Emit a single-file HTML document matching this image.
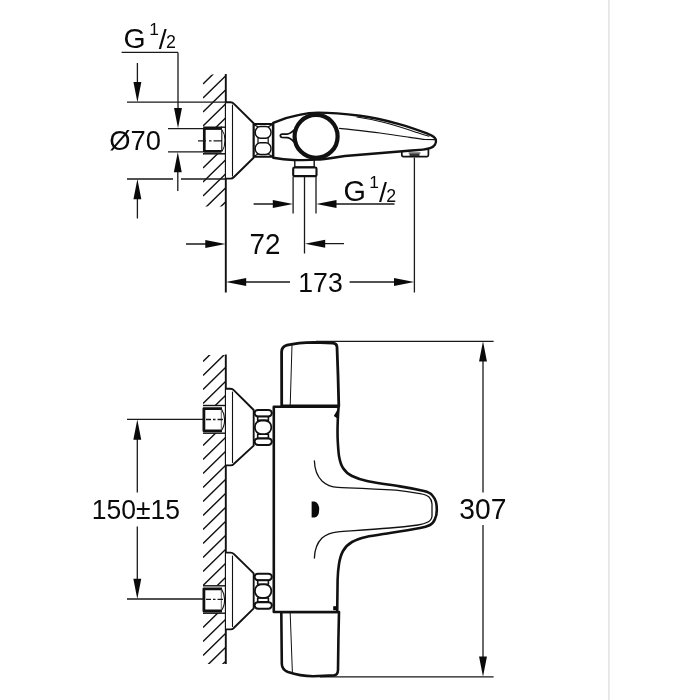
<!DOCTYPE html>
<html><head><meta charset="utf-8"><title>Technical drawing</title>
<style>
html,body{margin:0;padding:0;background:#fff;}
body{width:700px;height:700px;overflow:hidden;}
svg{display:block;}
text{font-family:"Liberation Sans",Arial,Helvetica,sans-serif;fill:#0a0a0a;}
</style></head><body>
<svg width="700" height="700" viewBox="0 0 700 700">
<defs>
<clipPath id="h1"><rect x="203" y="74.5" width="23" height="132"/></clipPath>
<clipPath id="h2"><rect x="203" y="355" width="23" height="309"/></clipPath>
</defs>
<rect width="700" height="700" fill="#fff"/>
<line x1="608.9" y1="0" x2="608.9" y2="700" stroke="#e4e4e4" stroke-width="1.6"/>

<!-- ===== hatching ===== -->
<path clip-path="url(#h1)" d="M203,84 L225.8,61.7 M203,98 L225.8,75.7 M203,112 L225.8,89.7 M203,126 L225.8,103.7 M203,140 L225.8,117.7 M203,154 L225.8,131.7 M203,168 L225.8,145.7 M203,182 L225.8,159.7 M203,196 L225.8,173.7 M203,210 L225.8,187.7 M203,224 L225.8,201.7 M203,238 L225.8,215.7" stroke="#111" stroke-width="1.45" fill="none"/>
<path clip-path="url(#h2)" d="M203,361.5 L225.8,339.2 M203,375.5 L225.8,353.2 M203,389.5 L225.8,367.2 M203,403.5 L225.8,381.2 M203,417.5 L225.8,395.2 M203,431.5 L225.8,409.2 M203,445.5 L225.8,423.2 M203,459.5 L225.8,437.2 M203,473.5 L225.8,451.2 M203,487.5 L225.8,465.2 M203,501.5 L225.8,479.2 M203,515.5 L225.8,493.2 M203,529.5 L225.8,507.2 M203,543.5 L225.8,521.2 M203,557.5 L225.8,535.2 M203,571.5 L225.8,549.2 M203,585.5 L225.8,563.2 M203,599.5 L225.8,577.2 M203,613.5 L225.8,591.2 M203,627.5 L225.8,605.2 M203,641.5 L225.8,619.2 M203,655.5 L225.8,633.2 M203,669.5 L225.8,647.2 M203,683.5 L225.8,661.2" stroke="#111" stroke-width="1.45" fill="none"/>

<!-- holes in wall (white) + pipes -->
<g stroke="#111" fill="#fff">
<rect x="203" y="127" width="22.5" height="26.5" stroke="none"/>
<rect x="203" y="405.5" width="22.5" height="27.5" stroke="none"/>
<rect x="203" y="585.6" width="22.5" height="27.5" stroke="none"/>
</g>
<!-- top pipe -->
<g fill="none" stroke="#111" stroke-linejoin="round">
<path d="M203.2,128.2 L222,128.2" stroke-width="3.4"/>
<path d="M221,127.2 L225,127.2" stroke-width="1.4"/>
<path d="M203,153.8 L225,153.8" stroke-width="1.5"/>
<path d="M204.3,128 L204.3,151.4 L221.5,151.4" stroke-width="2.7"/>
<path d="M221.8,129.5 L221.8,151.5" stroke-width="1.1"/>
<path d="M222,130 Q225,134 225,140 Q225,147 222,151.5" stroke-width="1"/>
<!-- upper pipe lower drawing -->
<path d="M203,405.5 L225,405.5" stroke-width="1.4"/>
<path d="M203,433.2 L225,433.2" stroke-width="1.4"/>
<path d="M222,408.6 L203.9,408.6 L203.9,430.8 L222,430.8" stroke-width="2.8"/>
<path d="M221.5,409 Q224.6,414 224.6,419.5 Q224.6,426 221.5,430.5" stroke-width="1.1"/>
<path d="M221.3,409.5 L221.3,430" stroke-width="0.9" stroke="#555"/>
<!-- lower pipe lower drawing -->
<path d="M203,585.8 L225,585.8" stroke-width="1.4"/>
<path d="M203,613.2 L225,613.2" stroke-width="1.4"/>
<path d="M222,588.8 L203.9,588.8 L203.9,611 L222,611" stroke-width="2.8"/>
<path d="M221.5,589 Q224.6,594 224.6,599.5 Q224.6,606 221.5,610.5" stroke-width="1.1"/>
<path d="M221.3,589.5 L221.3,610" stroke-width="0.9" stroke="#555"/>
</g>

<!-- walls -->
<path d="M225.8,74 L225.8,292.4 M225.8,354.5 L225.8,664" stroke="#111" stroke-width="1.9" fill="none"/>

<!-- ===== thin dimension lines ===== -->
<path d="M121.6,52.4 L178,52.4 M178,52.4 L178,112 M137.4,63 L137.4,85 M127,102.2 L226,102.2 M168,128.6 L203,128.6 M168,151.8 L203,151.8 M177.8,170 L177.8,191 M127,179 L173,179 M181,179 L226,179 M137.4,196 L137.4,218.4 M186,244 L208,244 M253.6,204 L275,204 M334,204 L394.5,204 M293.1,177 L293.1,213.6 M304.5,177 L304.5,253.6 M316,177 L316,213.6 M322,243.7 L344,243.7 M244,282 L290,282 M349.6,282 L396,282 M414.4,157.5 L414.4,292.4 M198,140.8 L206,140.8 M209,140.8 L211.5,140.8 M213.5,140.8 L222,140.8 M127,419.4 L203,419.4 M127,599 L203,599 M137.3,437 L137.3,492.4 M137.3,526.6 L137.3,582 M316,341.3 L493.6,341.3 M320,676.8 L493.6,676.8 M483,359 L483,492.4 M483,525 L483,659 M206,419.5 L211,419.5 M213,419.5 L215.5,419.5 M217.5,419.5 L223,419.5 M206,599.3 L211,599.3 M213,599.3 L215.5,599.3 M217.5,599.3 L223,599.3" stroke="#1a1a1a" stroke-width="1.3" fill="none"/>
<path d="M137.4,102.2 L133.45000000000002,82.0 L141.35,82.0 Z M178,128.3 L174.05,108.10000000000001 L181.95,108.10000000000001 Z M177.8,152 L173.85000000000002,172.2 L181.75,172.2 Z M137.4,179 L133.45000000000002,199.2 L141.35,199.2 Z M225.5,244 L205.3,240.05 L205.3,247.95 Z M293,204 L272.8,200.05 L272.8,207.95 Z M316.3,204 L336.5,200.05 L336.5,207.95 Z M305,243.7 L325.2,239.75 L325.2,247.64999999999998 Z M226,282 L246.2,278.05 L246.2,285.95 Z M414.2,282 L394.0,278.05 L394.0,285.95 Z M137.3,419.6 L133.35000000000002,439.8 L141.25,439.8 Z M137.3,599 L133.35000000000002,578.8 L141.25,578.8 Z M483,341.3 L479.05,361.5 L486.95,361.5 Z M483,676.8 L479.05,656.5999999999999 L486.95,656.5999999999999 Z" fill="#0a0a0a" stroke="none"/>

<!-- ===== top drawing: side view ===== -->
<g fill="#fff" stroke="#111" stroke-linejoin="round" stroke-linecap="round">
<!-- rosette -->
<path d="M226,102.3 L230.5,102.3 Q232.5,102.3 234,103.8 L253.6,123.2 L253.6,157.8 L234,177 Q232.5,178.6 230.5,178.6 L226,178.6" stroke-width="1.9"/>
<path d="M232.5,105 L232.5,176" stroke-width="1.1" fill="none"/>
<!-- nut -->
<rect x="253.8" y="124" width="19" height="32.8" stroke-width="1.9"/>
<rect x="255.2" y="126.5" width="15.8" height="11.8" rx="5.2" ry="5.8" stroke-width="1.45"/>
<rect x="255.2" y="142.8" width="15.8" height="11.6" rx="5.2" ry="5.7" stroke-width="1.45"/>
<path d="M258,138.4 L258,142.8 M268.2,138.4 L268.2,142.8 M254.6,125 L257.6,126.6 M271.6,125 L268.6,126.6 M254.6,156 L257.6,154.3 M271.6,156 L268.6,154.3" stroke-width="1.2" fill="none"/>
<!-- outlet under body -->
<rect x="294.8" y="159" width="19.4" height="8" stroke-width="1.4"/>
<rect x="293.2" y="167.5" width="23.3" height="8.6" rx="1.2" stroke-width="2.1"/>
<!-- aerator -->
<path d="M401.8,150 L401.8,155 Q401.8,156.6 403.5,156.6 L427,156.6 Q428.4,156.6 428.4,155 L428.4,148.5" stroke-width="1.7"/>
<rect x="409.5" y="153.6" width="10" height="2.4" fill="#333" stroke="none"/>
<path d="M409,153 L420,153" stroke-width="0.9" fill="none"/>
<!-- body -->
<path d="M273.2,122.9 C282,119 292,116.2 299.3,114.9 C305,113.6 312,112.6 318,112.6 C332,112.6 346,114 360,115.8 C370,117 384,120 400,124.3 C410,127 420,130.8 428,133.8 C431.6,135.2 435,136.8 435.8,139.6 C436.4,142 436,143.2 435,144.6 C434,146.2 432,147.6 430,148.2 C427,149.1 425,149.4 423,149.6 C400,151.6 380,153 345,156 C335,157.4 325,159.4 316.4,159.6 C305,160.1 298,160.2 293.6,160 C285,159.5 278,158.5 273.2,157.7 Z" stroke-width="2.4"/>
<!-- spout inner lines -->
<path d="M357,117 C366,118.4 374,120 380,121.5 C388,123.4 394,125.2 400,127 C408,129.4 413,131.2 417,132.6 C421,134 425,135.2 429,136.2" stroke-width="1.1" fill="none"/>
<path d="M339.5,128.4 C352,129.8 368,131.4 380,133 C392,134.6 402,136.2 410,137.4 C417,138.5 421,139.2 425,139.5 L434.5,139.6" stroke-width="1.15" fill="none"/>
<!-- lever -->
<path d="M294,130.2 C291.5,132.6 289.5,134 287,134.1 L282,134.1 Q280.3,134.3 280.3,135.6 Q280.3,137.2 282,137.4 L287,137.7 C289.5,137.8 291.5,139.2 294,141.8" stroke-width="1.8"/>
<!-- ring -->
<circle cx="316.1" cy="136.4" r="21.5" stroke-width="4.2"/>
</g>

<!-- ===== lower drawing: front view ===== -->
<g fill="#fff" stroke="#111" stroke-linejoin="round" stroke-linecap="round">
<!-- rosettes -->
<path d="M226,388.8 L230.5,388.8 Q232.5,388.8 234,390.3 L253.7,410 L253.7,445.6 L234,463.8 Q232.5,465.4 230.5,465.4 L226,465.4" stroke-width="1.9"/>
<path d="M232.5,392 L232.5,462.5" stroke-width="1.1" fill="none"/>
<path d="M226,552.6 L230.5,552.6 Q232.5,552.6 234,554.1 L253.7,573.4 L253.7,608.4 L234,627.8 Q232.5,629.4 230.5,629.4 L226,629.4" stroke-width="1.9"/>
<path d="M232.5,556 L232.5,626.5" stroke-width="1.1" fill="none"/>
<!-- nuts -->
<g transform="translate(0,0)">
<rect x="254.9" y="409.4" width="17.9" height="35.8" stroke="none"/>
<rect x="254.6" y="409.9" width="17.2" height="6.5" rx="3.4" ry="3.1" stroke-width="2"/>
<rect x="254.6" y="438.4" width="17.2" height="6.5" rx="3.4" ry="3.1" stroke-width="2"/>
<rect x="257.7" y="416.6" width="10.7" height="3.8" stroke-width="1.6"/>
<rect x="257.7" y="434.2" width="10.7" height="3.8" stroke-width="1.6"/>
<rect x="254.9" y="420.5" width="16.4" height="13.6" rx="6.4" ry="6.6" stroke-width="1.8"/>
</g>
<g transform="translate(0,163.8)">
<rect x="254.9" y="409.4" width="17.9" height="35.8" stroke="none"/>
<rect x="254.6" y="409.9" width="17.2" height="6.5" rx="3.4" ry="3.1" stroke-width="2"/>
<rect x="254.6" y="438.4" width="17.2" height="6.5" rx="3.4" ry="3.1" stroke-width="2"/>
<rect x="257.7" y="416.6" width="10.7" height="3.8" stroke-width="1.6"/>
<rect x="257.7" y="434.2" width="10.7" height="3.8" stroke-width="1.6"/>
<rect x="254.9" y="420.5" width="16.4" height="13.6" rx="6.4" ry="6.6" stroke-width="1.8"/>
</g>
<!-- top cap -->
<path d="M281.7,406 L281.6,352 Q281.6,346.6 287,345.2 Q298,342.6 314,342.4 L333,343.2 Q336.8,343.5 337,347 L338,375 L338.8,406 Z" stroke-width="2.8"/>
<path d="M292,345 L290.2,405.5" stroke-width="1" fill="none"/>
<!-- bottom cap -->
<path d="M281.3,612 L281.8,664 Q282,669.6 288,672 Q300,676.2 313,676.2 L334,675.4 Q337.8,675 338,670 L338.4,640 L339,612 Z" stroke-width="2.6"/>
<path d="M290.2,613 L292.4,673" stroke-width="1" fill="none"/>
<!-- body -->
<path d="M273.8,406.7 L338.6,406.7 C337.6,420 337.2,432 337.8,442 C338.2,448 338.4,452 339,456 C340,462 341,465 343,468 C345.5,472 348,474 352,476 C357,478.5 362,480 368,481.2 C378,483 390,484.8 400,486.4 C410,488 417,489.4 424,491 C428,492 430.5,493.2 432,495 C434,497.2 435.4,499.5 436,502 C436.6,504.5 436.8,507 436.8,510 C436.8,513 436.2,516.5 435,519 C434,521.5 432.4,523.8 430,525 C427,526.5 424,527.3 420,528 C410,529.8 400,531.4 390,533 C382,534.3 373,535.6 366,537 C361,538.2 356,539.8 352,542 C348,544.3 345.2,547 343,551 C341,554.6 339.8,559 339,564 C338.2,569 337.8,574 337.6,580 L337.2,612 L273.8,612 Z" stroke-width="2.6"/>
<!-- inner spout line -->
<path d="M314.4,461 C314.6,468 316.5,475.5 322,481 C326,484.8 331,487 338,487.4 C352,488 372,488.6 396,490.2 C404,491 412,492.2 420,493.6 C424,494.3 427,495.2 429,497 C431,498.8 431.8,501 432,504 L432,516 C431.8,518.5 430.5,520.6 428,522 C425,523.6 422,524.4 418,525 C409,526.2 400,527.2 390,528 C372,529.6 352,530.8 338,531.8 C331,532.4 326,534.4 322,538 C316.5,543.5 314.6,551 314.4,558" stroke-width="1.3" fill="none"/>
<!-- marks -->
<path d="M311.6,501.4 L314.6,501.4 Q319.2,502.6 319.2,509.5 Q319.2,516.6 314.6,517.6 L311.6,517.6 Z" fill="#0a0a0a" stroke="none"/>
<path d="M337.6,409.5 L333.8,416 L337.2,418.2 Z" fill="#0a0a0a" stroke="none"/>
<rect x="333.2" y="606.2" width="3.6" height="4" fill="#0a0a0a" stroke="none"/>
</g>

<!-- ===== text ===== -->
<g font-size="27" opacity="0.999">
<text><tspan x="123.53" y="48.37" font-size="28.42">G</tspan><tspan x="149.16" y="34.95" font-size="17.39">1</tspan><tspan x="158.75" y="48.65" font-size="28.56">/</tspan><tspan x="166.06" y="48.35" font-size="17.77">2</tspan></text>
<text><tspan x="343.51" y="201.46" font-size="28.80">G</tspan><tspan x="369.36" y="188.25" font-size="17.39">1</tspan><tspan x="378.95" y="201.95" font-size="28.56">/</tspan><tspan x="386.26" y="201.65" font-size="17.77">2</tspan></text>
<text transform="translate(109.26,150.28) scale(1.0129,1.0561)">Ø70</text>
<text transform="translate(249.56,254.15) scale(1.0304,1.0635)">72</text>
<text transform="translate(298.32,292.07) scale(0.9861,1.0537)">173</text>
<text transform="translate(91.73,519.47) scale(0.9819,1.0485)">150±15</text>
<text transform="translate(459.32,519.26) scale(1.0455,1.0642)">307</text>
</g>
</svg>
</body></html>
